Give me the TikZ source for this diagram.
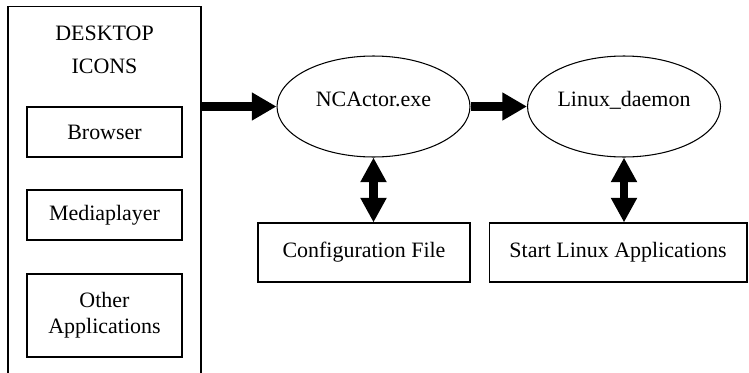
\documentclass[tikz,border=0pt]{standalone}
\usepackage{fontspec}
\setmainfont{Liberation Serif}
\usetikzlibrary{positioning,shapes.geometric,arrows.meta}

\begin{document}
\begin{tikzpicture}[x=0.02cm,y=-0.02cm,
    every node/.style={font=\fontsize{12.5}{15}\selectfont},
    box/.style={draw, line width=0.6pt, inner sep=0pt, align=center},
    proc/.style={draw, ellipse, line width=0.6pt, inner sep=0pt,
      minimum width=3.86cm, minimum height=2.02cm, text height=0.7em, text depth=0.7em},
    fat/.style={line width=5pt, -{Triangle[length=14pt,width=15pt]}},
    fatboth/.style={line width=5pt, {Triangle[length=14pt,width=14pt]}-{Triangle[length=14pt,width=14pt]}}]
  \useasboundingbox (0,0) rectangle (749,372);
  \node[box, minimum width=3.86cm, minimum height=7.4cm] (desktop) at (104.5,191) {};
  \node[align=center] (title) at (104.5,50) {DESKTOP\\[3.7pt]ICONS};
  \node[box, minimum width=3.1cm, minimum height=1cm]    (browser) at (104.5,132)   {Browser};
  \node[box, minimum width=3.1cm, minimum height=1cm]    (media)   at (104.5,215)   {Mediaplayer};
  \node[box, minimum width=3.1cm, minimum height=1.66cm] (other)   at (104.5,315.5) {Other\\Applications};

  \node[proc] (ncactor) at (373.5,106.5) {NCActor.exe};
  \node[proc] (daemon)  at (624,106.5)   {Linux\_daemon};
  \node[box, minimum width=4.24cm, minimum height=1.18cm] (config) at (364,252.5) {Configuration File};
  \node[box, minimum width=5.16cm, minimum height=1.18cm] (start)  at (618,252.5) {Start Linux Applications};

  \draw[fat] (ncactor.west -| desktop.east) -- (ncactor.west);
  \draw[fat] (ncactor) -- (daemon);
  \draw[fatboth] (ncactor.south) -- (ncactor.south |- config.north);
  \draw[fatboth] (daemon.south) -- (daemon.south |- start.north);
\end{tikzpicture}
\end{document}
